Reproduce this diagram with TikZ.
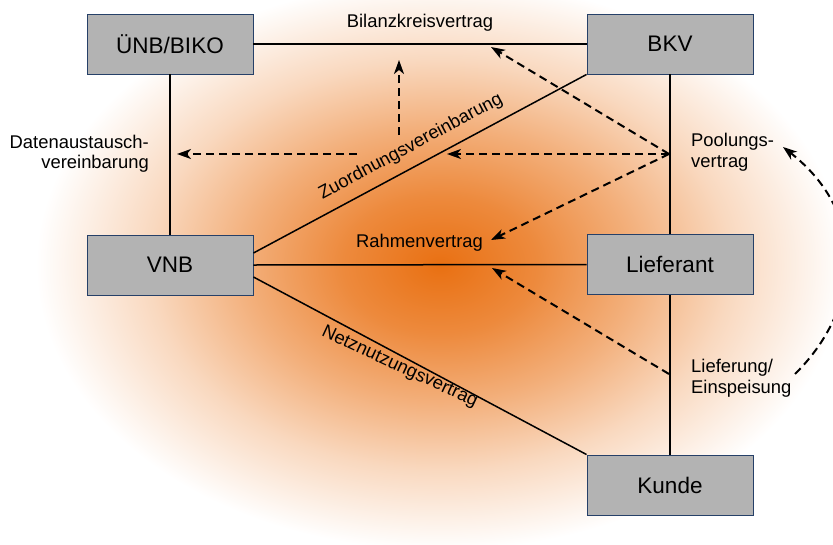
\documentclass[tikz,border=0pt]{standalone}
\usepackage{fontspec}
\setmainfont{Liberation Sans}
\usetikzlibrary{arrows.meta}
\definecolor{orc}{RGB}{233,112,18}
\definecolor{boxfill}{RGB}{179,179,179}
\definecolor{boxline}{RGB}{38,64,104}
\pgfdeclareradialshading{glow}{\pgfpoint{0bp}{0bp}}{color(0bp)=(orc); color(3bp)=(orc!82!white); color(6bp)=(orc!56!white); color(9bp)=(orc!27!white); color(12.5bp)=(white); color(50bp)=(white)}
\begin{document}
\begin{tikzpicture}[x=1pt,y=-1pt,
  box/.style={draw=boxline, line width=0.9pt, fill=boxfill, minimum width=166pt, minimum height=60pt, inner sep=0pt, font=\fontsize{22.5}{27}\selectfont},
  lbl/.style={font=\fontsize{18.4}{20.5}\selectfont, inner sep=0pt},
  conn/.style={line width=1.5pt},
  dasharrow/.style={line width=2pt, dash pattern=on 8pt off 5pt, -{Stealth[length=14pt,width=10pt,inset=4pt]}}]
\useasboundingbox (0,0) rectangle (833,544);
\fill[white] (0,0) rectangle (833,544);
\fill[shading=glow] (-368,-305) rectangle (1248,835);

\node[box] (unb) at (170,44) {ÜNB/BIKO};
\node[box] (bkv) at (670,44) {BKV};
\node[box] (vnb) at (170,265) {VNB};
\node[box] (lief) at (670,264.5) {Lieferant};
\node[box] (kunde) at (670,485) {Kunde};

\draw[conn] (unb.east) -- node[lbl, above=12pt, midway] {Bilanzkreisvertrag} (bkv.west);
\draw[conn] (unb.south) -- (vnb.north);
\draw[conn] (bkv.south) -- (lief.north);
\draw[conn] (lief.south) -- (kunde.north);
\draw[conn] (vnb.east) -- (lief.west);
\draw[conn] ([yshift=12pt]vnb.east) -- node[lbl, sloped, above=10pt, pos=0.5] {Zuordnungsvereinbarung} (bkv.south west);
\draw[conn] ([yshift=-12pt]vnb.east) -- node[lbl, rotate=-25, pos=0.45, xshift=1pt, yshift=-11pt] {Netznutzungsvertrag} (kunde.north west);

\node[lbl, align=right, anchor=east] (daten) at (149,153.6) {Datenaustausch-\\vereinbarung};
\node[lbl, align=left, anchor=west] (poolt) at (691,152.4) {Poolungs-\\vertrag};
\node[lbl, align=left, anchor=west] (lieft) at (691,378) {Lieferung/\\Einspeisung};
\node[lbl, anchor=base] (rahmen) at (419.5,247.7) {Rahmenvertrag};

\coordinate (pool) at (669,154);
\coordinate (lfp) at (669,374);
\coordinate (tipBil) at (491,47);
\coordinate (tipZu) at (447,154);
\coordinate (tipRah) at (491,240);
\coordinate (tipRah2) at (492,268);
\coordinate (upS) at (399,135);
\coordinate (upT) at (399,60);
\coordinate (lS) at (357,154);
\coordinate (lT) at (177,154);
\coordinate (cS) at (795,374);
\coordinate (cT) at (783,147);

\draw[dasharrow] (pool) -- (tipBil);
\draw[dasharrow] (pool) -- (tipZu);
\draw[dasharrow] (pool) -- (tipRah);
\draw[dasharrow] (lfp) -- (tipRah2);
\draw[dasharrow] (upS) -- (upT);
\draw[dasharrow] (lS) -- (lT);
\draw[dasharrow] (cS) .. controls (860,310) and (870,215) .. (cT);
\end{tikzpicture}
\end{document}
